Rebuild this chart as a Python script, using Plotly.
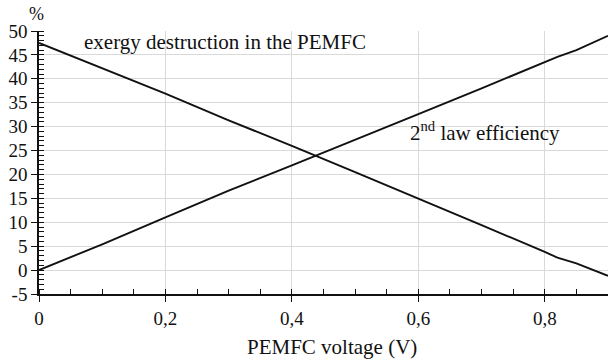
import plotly.graph_objects as go

voltage = [0, 0.1, 0.2, 0.3, 0.4, 0.5, 0.6, 0.7, 0.8, 0.82, 0.85, 0.9]
efficiency = [0, 5.4, 11.0, 16.6, 21.9, 27.2, 32.6, 38.0, 43.6, 44.6, 46.0, 49.0]
destruction = [47.5, 42.2, 36.9, 31.3, 26.0, 20.5, 15.0, 9.4, 3.8, 2.6, 1.4, -1.2]

y_ticks = [-5, 0, 5, 10, 15, 20, 25, 30, 35, 40, 45, 50]
y_tick_labels = ["-5", "0", "5", "10", "15", "20", "25", "30", "35", "40", "45", "50"]
x_ticks = [0, 0.2, 0.4, 0.6, 0.8]
x_tick_labels = ["0", "0,2", "0,4", "0,6", "0,8"]

serif = "Liberation Serif"

fig = go.Figure()
fig.add_trace(go.Scatter(x=voltage, y=efficiency, mode="lines",
                         line=dict(color="#111111", width=1.9), showlegend=False))
fig.add_trace(go.Scatter(x=voltage, y=destruction, mode="lines",
                         line=dict(color="#111111", width=1.9), showlegend=False))

fig.update_layout(
    width=608, height=362,
    margin=dict(l=39, r=0, t=31, b=68),
    plot_bgcolor="white", paper_bgcolor="white",
    font=dict(family=serif, color="#111111", size=19),
    separators=",.",
    xaxis=dict(
        range=[0, 0.9], tickvals=x_ticks, ticktext=x_tick_labels,
        showgrid=True, gridcolor="#d9d9d9", gridwidth=1, zeroline=False,
        showline=True, linecolor="#111111", linewidth=1.5,
        ticks="outside", ticklen=6, tickwidth=1.3, tickcolor="#111111",
        minor=dict(dtick=0.05, ticks="inside", ticklen=5, tickwidth=1.2,
                   tickcolor="#111111", showgrid=False),
        tickfont=dict(size=19, family=serif),
    ),
    yaxis=dict(
        range=[-5, 50], tickvals=y_ticks, ticktext=y_tick_labels,
        showgrid=True, gridcolor="#d9d9d9", gridwidth=1, zeroline=False,
        showline=True, linecolor="#111111", linewidth=1.5,
        ticks="outside", ticklen=6, tickwidth=1.3, tickcolor="#111111",
        minor=dict(dtick=1, ticks="inside", ticklen=5, tickwidth=1,
                   tickcolor="#111111", showgrid=False),
        tickfont=dict(size=19, family=serif),
    ),
    annotations=[
        dict(text="%", xref="paper", yref="paper", x=0, y=1, xshift=-3, yshift=17,
             xanchor="center", yanchor="middle", showarrow=False,
             font=dict(size=18, family=serif)),
        dict(text="PEMFC voltage (V)", xref="paper", yref="paper", x=0.5, y=0,
             xshift=8, yshift=-53, xanchor="center", yanchor="middle", showarrow=False,
             font=dict(size=21, family=serif)),
        dict(text="exergy destruction in the PEMFC", xref="x", yref="y", x=0.068, y=47.7,
             xanchor="left", yanchor="middle", showarrow=False,
             font=dict(size=21, family=serif)),
        dict(text="2<sup>nd</sup> law efficiency", xref="x", yref="y", x=0.583, y=29.0,
             xanchor="left", yanchor="middle", showarrow=False,
             font=dict(size=21, family=serif)),
    ],
)

fig.write_html("out.html")
